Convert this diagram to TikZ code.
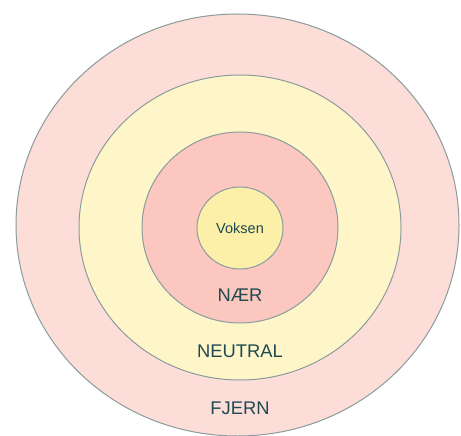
\documentclass[tikz,border=0pt]{standalone}
\usepackage{fontspec}
\setmainfont{Liberation Sans}
\usetikzlibrary{shapes.geometric}
\definecolor{ringline}{HTML}{8A9C9C}
\definecolor{fjernfill}{HTML}{FDDDD7}
\definecolor{neutralfill}{HTML}{FEF6C9}
\definecolor{naerfill}{HTML}{FBC7BF}
\definecolor{voksenfill}{HTML}{FCF0A8}
\definecolor{labeltext}{HTML}{1E4A50}
\begin{document}
\begin{tikzpicture}[x=1bp,y=-1bp,
  ring/.style={ellipse, draw=ringline, line width=1bp, inner sep=0pt},
  lbl/.style={text=labeltext, font=\fontsize{18.4}{20}\selectfont, inner sep=0pt}]
\useasboundingbox (0,0) rectangle (461,436);
\fill[white] (0,0) rectangle (461,436);
\node[ring, fill=fjernfill, minimum width=443bp, minimum height=422bp] (fjernring) at (237.5,225) {};
\node[ring, fill=neutralfill, minimum width=322bp, minimum height=305bp] (neutralring) at (240,227.5) {};
\node[ring, fill=naerfill, minimum width=196bp, minimum height=191bp] (naerring) at (240,227.5) {};
\node[ring, fill=voksenfill, minimum width=86bp, minimum height=82bp] (voksenring) at (240,228) {};
\node[lbl, font=\fontsize{14.6}{16}\selectfont] (voksen) at (240,228) {Voksen};
\node[lbl] (naer) at (240,295.5) {NÆR};
\node[lbl] (neutral) at (240,351) {NEUTRAL};
\node[lbl] (fjern) at (240,408) {FJERN};
\end{tikzpicture}
\end{document}
